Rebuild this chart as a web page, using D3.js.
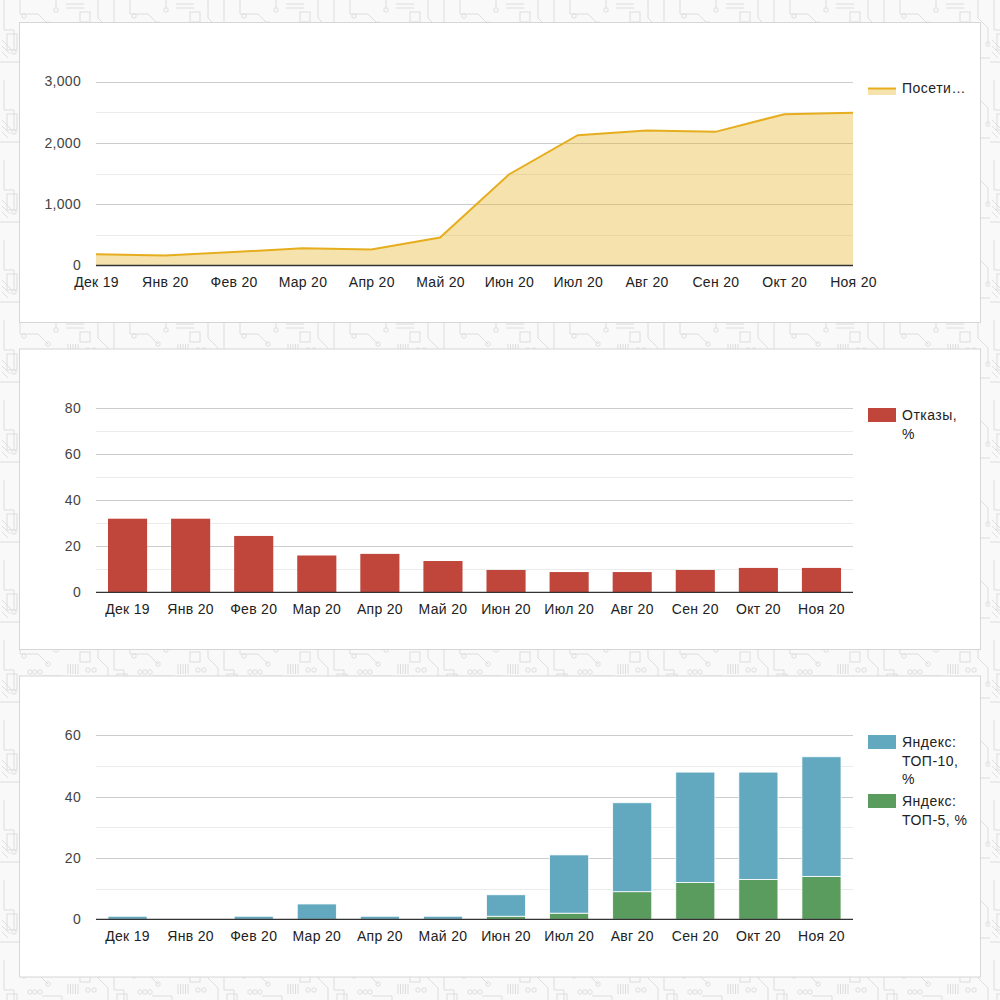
<!DOCTYPE html>
<html>
<head>
<meta charset="utf-8">
<script src="https://cdnjs.cloudflare.com/ajax/libs/d3/7.8.5/d3.min.js"></script>
<style>
  body { margin: 0; background: #f8f8f8; }
  svg { display: block; font-family: "Liberation Sans", Arial, sans-serif; }
</style>
</head>
<body>
<div id="chart-area"></div>
<script>
// data
var months = ["Дек 19", "Янв 20", "Фев 20", "Мар 20", "Апр 20", "Май 20",
  "Июн 20", "Июл 20", "Авг 20", "Сен 20", "Окт 20", "Ноя 20"]
var visitors = [185, 165, 220, 282, 261, 456, 1484, 2125, 2201, 2179, 2467, 2489]
var bounceRate = [32, 32, 24.5, 16, 16.7, 13.6, 9.7, 8.8, 8.8, 9.7, 10.6, 10.6]
var yandexTop10 = [1, 0, 1, 5, 1, 1, 7, 19, 29, 36, 35, 39]
var yandexTop5 = [0, 0, 0, 0, 0, 0, 1, 2, 9, 12, 13, 14]

var visitorTicks = [0, 1000, 2000, 3000]
var bounceTicks = [0, 20, 40, 60, 80]
var yandexTicks = [0, 20, 40, 60]

var W = 1000, H = 1000
var plotLeft = 96, plotRight = 853, plotH = 184

var svg = d3.select("#chart-area").append("svg")
  .attr("width", W)
  .attr("height", H)

// circuit-ish background pattern
var defs = svg.append("defs")
var pat = defs.append("pattern")
  .attr("id", "circuit")
  .attr("width", 110)
  .attr("height", 80)
  .attr("patternUnits", "userSpaceOnUse")
pat.append("rect").attr("width", 110).attr("height", 80).attr("fill", "#f9f9f9")
var pg = pat.append("g").attr("fill", "none").attr("stroke", "#dedede").attr("stroke-width", 1)
pg.append("path").attr("d", "M4 0 V30 H14 V50 M20 0 V14 H38 L48 24 M56 0 V8 M66 4 H84 M66 8 H84 M98 0 V18 L108 28 V44")
pg.append("path").attr("d", "M0 62 H20 L30 72 V80 M42 36 H62 V58 M76 44 L90 58 H110 M36 80 V66 H52")
pg.append("path").attr("d", "M2 40 L12 50 M2 46 L10 54 M2 52 L8 58")
pg.append("rect").attr("x", 44).attr("y", 44).attr("width", 14).attr("height", 12)
pg.append("rect").attr("x", 47).attr("y", 47).attr("width", 8).attr("height", 6)
pg.append("rect").attr("x", 80).attr("y", 12).attr("width", 10).attr("height", 10)
pg.append("rect").attr("x", 7).attr("y", 34).attr("width", 10).attr("height", 16)
var circles = [[14, 52], [48, 24], [56, 10], [24, 16], [90, 58], [30, 32], [35, 32], [40, 32],
  [70, 70], [76, 70], [98, 72], [108, 44], [62, 58], [88, 30], [94, 30]]
circles.forEach(function(c) {
  pg.append("circle").attr("cx", c[0]).attr("cy", c[1]).attr("r", 2.2)
})
for (var i = 0; i < 5; i++) {
  pg.append("line").attr("x1", 68 + i * 2.5).attr("x2", 68 + i * 2.5).attr("y1", 24).attr("y2", 34)
}
svg.append("rect").attr("width", W).attr("height", H).attr("fill", "url(#circuit)")

var panels = [
  { top: 22.5, bottom: 322.5 },
  { top: 349, bottom: 649.5 },
  { top: 676, bottom: 977 }
]

panels.forEach(function(p) {
  svg.append("rect")
    .attr("x", 19.5).attr("y", p.top)
    .attr("width", 961).attr("height", p.bottom - p.top)
    .attr("fill", "#fff")
    .attr("stroke", "#d6d6d6")
})

// gridlines + y labels
function drawGrid(g, y, ticks) {
  var step = ticks[1] - ticks[0]
  var minor = ticks.slice(0, -1).map(function(t) { return t + step / 2 })
  g.selectAll(".minor").data(minor).enter().append("line")
    .attr("x1", plotLeft).attr("x2", plotRight)
    .attr("y1", function(d) { return Math.round(y(d)) + 0.5 })
    .attr("y2", function(d) { return Math.round(y(d)) + 0.5 })
    .attr("stroke", "#ebebeb")
  g.selectAll(".major").data(ticks.slice(1)).enter().append("line")
    .attr("x1", plotLeft).attr("x2", plotRight)
    .attr("y1", function(d) { return Math.round(y(d)) + 0.5 })
    .attr("y2", function(d) { return Math.round(y(d)) + 0.5 })
    .attr("stroke", "#cccccc")
  var yAxis = d3.axisLeft(y).tickValues(ticks).tickSize(0).tickPadding(15)
    .tickFormat(d3.format(","))
  var ax = g.append("g").attr("transform", "translate(" + plotLeft + ",0)").call(yAxis)
  ax.select(".domain").remove()
  ax.selectAll("text").attr("font-size", "14px").attr("fill", "#444")
    .attr("letter-spacing", "0.3px")
    .attr("font-family", "Liberation Sans, Arial, sans-serif")
}

function drawXAxis(g, x, y0, pad) {
  var xAxis = d3.axisBottom(x).tickSize(0).tickPadding(pad)
  var ax = g.append("g").attr("transform", "translate(0," + y0 + ")").call(xAxis)
  ax.select(".domain").remove()
  ax.selectAll("text").attr("font-size", "14px").attr("fill", "#222")
    .attr("letter-spacing", "0.3px")
    .attr("font-family", "Liberation Sans, Arial, sans-serif")
  g.append("line")
    .attr("x1", plotLeft).attr("x2", plotRight)
    .attr("y1", y0).attr("y2", y0)
    .attr("stroke", "#333").attr("stroke-width", 1.3)
}

function legendText(g, lines, x, y) {
  var t = g.append("text")
    .attr("x", x).attr("y", y)
    .attr("font-size", "14px").attr("fill", "#222")
    .attr("letter-spacing", "0.5px")
  lines.forEach(function(l, i) {
    t.append("tspan").attr("x", x).attr("dy", i === 0 ? 0 : 18.5).text(l)
  })
}

// ---- chart 1: visitors area ----
var g1 = svg.append("g")
var base1 = panels[0].top + 59 + plotH
var y1 = d3.scaleLinear().domain([0, 3000]).range([base1, base1 - plotH])
var x1 = d3.scalePoint().domain(months).range([plotLeft, plotRight])

drawGrid(g1, y1, visitorTicks)

var area = d3.area()
  .x(function(d, i) { return x1(months[i]) })
  .y0(base1)
  .y1(function(d) { return y1(d) })
var line = d3.line()
  .x(function(d, i) { return x1(months[i]) })
  .y(function(d) { return y1(d) })

g1.append("path").datum(visitors).attr("d", area)
  .attr("fill", "#e6b426").attr("fill-opacity", 0.38)
g1.append("path").datum(visitors).attr("d", line)
  .attr("fill", "none").attr("stroke", "#e6ae1e").attr("stroke-width", 2)

drawXAxis(g1, x1, base1, 12)

g1.append("rect").attr("x", 868).attr("y", 88).attr("width", 28).attr("height", 7)
  .attr("fill", "#e6b426").attr("fill-opacity", 0.38)
g1.append("line").attr("x1", 868).attr("x2", 896).attr("y1", 88.5).attr("y2", 88.5)
  .attr("stroke", "#e6ae1e").attr("stroke-width", 2)
legendText(g1, ["Посети…"], 902, 93)

// ---- chart 2: bounce rate bars ----
var g2 = svg.append("g")
var base2 = panels[1].top + 59.3 + plotH
var y2 = d3.scaleLinear().domain([0, 80]).range([base2, base2 - plotH])
var x2 = d3.scaleBand().domain(months).range([plotLeft, plotRight])
  .paddingInner(0.38).paddingOuter(0.19)

drawGrid(g2, y2, bounceTicks)

g2.selectAll(".bar").data(bounceRate).enter().append("rect")
  .attr("x", function(d, i) { return x2(months[i]) })
  .attr("width", x2.bandwidth())
  .attr("y", function(d) { return y2(d) })
  .attr("height", function(d) { return base2 - y2(d) })
  .attr("fill", "#c0463c")

drawXAxis(g2, x2, base2, 12)

g2.append("rect").attr("x", 868).attr("y", 408).attr("width", 28).attr("height", 14)
  .attr("fill", "#c0463c")
legendText(g2, ["Отказы,", "%"], 902, 420)

// ---- chart 3: yandex stacked bars ----
var g3 = svg.append("g")
var base3 = panels[2].top + 59.3 + plotH
var y3 = d3.scaleLinear().domain([0, 60]).range([base3, base3 - plotH])
var x3 = d3.scaleBand().domain(months).range([plotLeft, plotRight])
  .paddingInner(0.38).paddingOuter(0.19)

drawGrid(g3, y3, yandexTicks)

var table = months.map(function(m, i) {
  return { month: m, top5: yandexTop5[i], top10: yandexTop10[i] }
})
var stack = d3.stack().keys(["top5", "top10"])(table)
var colors = { top5: "#5a9c5d", top10: "#62a9c0" }

g3.selectAll(".layer").data(stack).enter().append("g")
  .attr("fill", function(d) { return colors[d.key] })
  .selectAll("rect").data(function(d) { return d }).enter().append("rect")
    .attr("x", function(d) { return x3(d.data.month) })
    .attr("width", x3.bandwidth())
    .attr("y", function(d) { return y3(d[1]) })
    .attr("height", function(d) { return Math.max(0, y3(d[0]) - y3(d[1])) })
    .attr("stroke", "#fff")
    .attr("stroke-width", function(d) { return d[1] > d[0] ? 0.8 : 0 })

drawXAxis(g3, x3, base3, 12)

g3.append("rect").attr("x", 868).attr("y", 735).attr("width", 28).attr("height", 14)
  .attr("fill", colors.top10)
legendText(g3, ["Яндекс:", "ТОП-10,", "%"], 902, 747)
g3.append("rect").attr("x", 868).attr("y", 794).attr("width", 28).attr("height", 14)
  .attr("fill", colors.top5)
legendText(g3, ["Яндекс:", "ТОП-5, %"], 902, 806)
</script>
</body>
</html>
